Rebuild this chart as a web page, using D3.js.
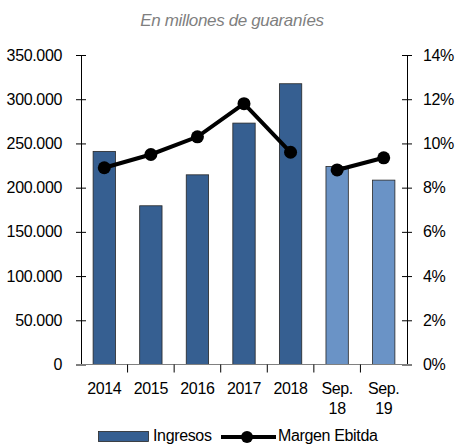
<!DOCTYPE html>
<html>
<head>
<meta charset="utf-8">
<script src="https://cdn.jsdelivr.net/npm/d3@7"></script>
<style>
  body { margin: 0; background: #fff; }
  svg text { font-family: "Liberation Sans", Arial, sans-serif; fill: #000; letter-spacing: -0.35px; }
</style>
</head>
<body>
<svg id="chart" width="456" height="444"></svg>
<script>
// ---- data ----
const categories = ["2014", "2015", "2016", "2017", "2018", "Sep. 18", "Sep. 19"];
const ingresos = [241000, 179500, 214500, 273000, 317500, 224000, 208500];
const margenEbitda = [8.9, 9.5, 10.3, 11.8, 9.6, 8.8, 9.35];
const leftTicks = [0, 50000, 100000, 150000, 200000, 250000, 300000, 350000];
const rightTicks = [0, 2, 4, 6, 8, 10, 12, 14];
const partial = [false, false, false, false, false, true, true];

// ---- layout ----
const m = { left: 81, right: 49, top: 55, bottom: 79.5 };
const W = 456, H = 444;
const FS = 16;
const svg = d3.select('#chart');

const x = d3.scaleBand().domain(categories)
  .range([m.left, W - m.right]).paddingInner(0.52).paddingOuter(0.26);
const yL = d3.scaleLinear().domain([0, 350000]).range([H - m.bottom, m.top]);
const yR = d3.scaleLinear().domain([0, 14]).range([H - m.bottom, m.top]);
const fmt = d => d3.format(",")(d).replace(/,/g, ".");

// title
svg.append('text')
  .attr('x', 232).attr('y', 26)
  .attr('text-anchor', 'middle')
  .attr('font-size', 17).attr('font-style', 'italic')
  .style('fill', '#7f7f7f')
  .text('En millones de guaraníes');

// bars
svg.selectAll('rect.bar')
  .data(categories)
  .join('rect')
  .attr('class', 'bar')
  .attr('x', d => x(d))
  .attr('width', x.bandwidth())
  .attr('y', (d, i) => yL(ingresos[i]))
  .attr('height', (d, i) => yL(0) - yL(ingresos[i]))
  .attr('fill', (d, i) => partial[i] ? '#6a93c6' : '#365f91')
  .attr('stroke', '#262626').attr('stroke-width', 0.8);

// left axis
const axL = svg.append('g').attr('transform', `translate(${m.left},0)`)
  .call(d3.axisLeft(yL).tickValues(leftTicks).tickFormat(fmt).tickSizeInner(5).tickSizeOuter(0).tickPadding(14));
axL.selectAll('.tick line').attr('x1', 5);
axL.selectAll('text').attr('font-size', FS).style('font-family', '"Liberation Sans", Arial, sans-serif');
axL.select('.domain').attr('stroke', '#000');

// right axis
const axR = svg.append('g').attr('transform', `translate(${W - m.right},0)`)
  .call(d3.axisRight(yR).tickValues(rightTicks).tickFormat(d => d + '%').tickSizeInner(5).tickSizeOuter(0).tickPadding(11));
axR.selectAll('.tick line').attr('x1', -5);
axR.selectAll('text').attr('font-size', FS).style('font-family', '"Liberation Sans", Arial, sans-serif');

// bottom axis
const y0 = yL(0);
svg.append('line')
  .attr('x1', m.left - 5).attr('x2', W - m.right + 5)
  .attr('y1', y0).attr('y2', y0)
  .attr('stroke', '#808080').attr('stroke-width', 1.2);
const step = x.step();
svg.selectAll('line.xtick')
  .data(d3.range(1, categories.length))
  .join('line')
  .attr('class', 'xtick')
  .attr('x1', i => m.left + step * i).attr('x2', i => m.left + step * i)
  .attr('y1', y0).attr('y2', y0 + 8)
  .attr('stroke', '#000');

const xl = svg.selectAll('text.xlab')
  .data(categories)
  .join('text')
  .attr('class', 'xlab')
  .attr('text-anchor', 'middle')
  .attr('font-size', FS)
  .attr('y', y0 + 29.5);
xl.each(function (d) {
  const parts = d.split(' ');
  const cx = x(d) + x.bandwidth() / 2;
  parts.forEach((p, k) => {
    d3.select(this).append('tspan')
      .attr('x', cx).attr('dy', k === 0 ? 0 : 20)
      .text(p);
  });
});

// line (two segments: annual, then Sep.)
const line = d3.line()
  .x(d => x(d.c) + x.bandwidth() / 2)
  .y(d => yR(d.v));
const pts = categories.map((c, i) => ({ c, v: margenEbitda[i], p: partial[i] }));
[pts.filter(d => !d.p), pts.filter(d => d.p)].forEach(seg => {
  svg.append('path')
    .attr('d', line(seg))
    .attr('fill', 'none').attr('stroke', '#000').attr('stroke-width', 4);
});
svg.selectAll('circle.pt')
  .data(pts)
  .join('circle')
  .attr('class', 'pt')
  .attr('cx', d => x(d.c) + x.bandwidth() / 2)
  .attr('cy', d => yR(d.v))
  .attr('r', 6.5)
  .attr('fill', '#000');

// legend
const lg = svg.append('g');
lg.append('rect')
  .attr('x', 98.5).attr('y', 431.5).attr('width', 50).attr('height', 10)
  .attr('fill', '#365f91').attr('stroke', '#262626').attr('stroke-width', 0.8);
lg.append('text').attr('x', 153).attr('y', 441).attr('font-size', FS).text('Ingresos');
lg.append('line')
  .attr('x1', 221).attr('x2', 276).attr('y1', 437).attr('y2', 437)
  .attr('stroke', '#000').attr('stroke-width', 4);
lg.append('circle').attr('cx', 247).attr('cy', 437).attr('r', 6).attr('fill', '#000');
lg.append('text').attr('x', 278).attr('y', 441).attr('font-size', FS).text('Margen Ebitda');
</script>
</body>
</html>
